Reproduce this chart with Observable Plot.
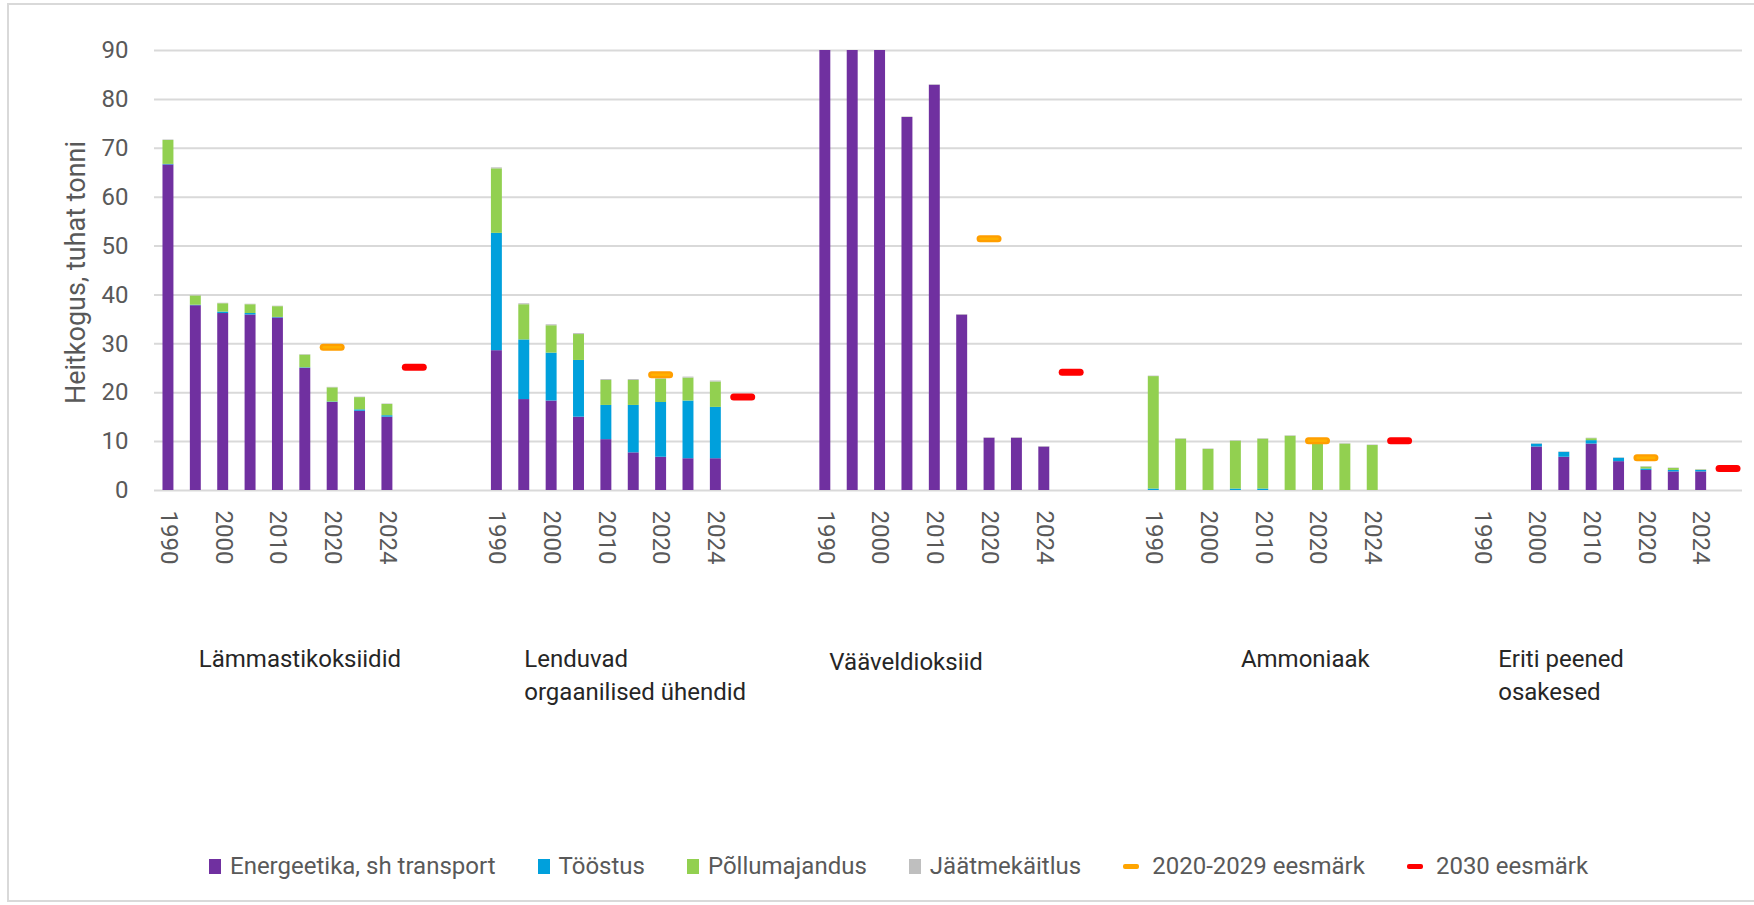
<!DOCTYPE html>
<html>
<head>
<meta charset="utf-8">
<script src="https://cdn.jsdelivr.net/npm/d3@7"></script>
<script src="https://cdn.jsdelivr.net/npm/@observablehq/plot@0.6"></script>
<style>
  html, body { margin: 0; padding: 0; background: #fff; }
  #wrap { position: relative; width: 1754px; height: 905px; overflow: hidden; font-family: Roboto, sans-serif; }
  #border { position: absolute; left: 7px; top: 3px; width: 1800px; height: 899px; box-sizing: border-box; border: 2px solid #d9d9d9; }
  #chart { position: absolute; left: 0; top: 0; }
  #legend { position: absolute; left: 209px; top: 851px; height: 30px; display: flex; align-items: center; font-size: 24px; color: #595959; white-space: nowrap; }
  .item { display: flex; align-items: center; margin-right: 42px; }
  .sw { width: 12px; height: 15px; margin-right: 9px; }
  .dash { width: 16px; height: 5px; border-radius: 2px; margin-right: 13px; }
</style>
</head>
<body>
<div id="wrap">
  <div id="border"></div>
  <div id="chart"></div>
  <div id="legend"></div>
</div>
<script>
// ---- data ----
const groups = ["Lämmastikoksiidid", "Lenduvad\norgaanilised ühendid", "Vääveldioksiid", "Ammoniaak", "Eriti peened\nosakesed"];
const years = ["1990", "1995", "2000", "2005", "2010", "2015", "2020", "2022", "2024"];
const targetYear = "2030";
const labelledYears = ["1990", "2000", "2010", "2020", "2024"];
const sectors = ["Energeetika, sh transport", "Tööstus", "Põllumajandus", "Jäätmekäitlus"];

// thousand tonnes, per pollutant (rows) and year (columns)
const energeetika = [
  [66.6, 37.8, 36.2, 35.9, 35.3, 25.0, 18.0, 16.2, 15.0],
  [28.6, 18.6, 18.3, 15.0, 10.4, 7.7, 6.8, 6.5, 6.5],
  [274, 117, 97, 76.3, 82.9, 35.9, 10.7, 10.7, 8.9],
  [0, 0, 0, 0, 0, 0, 0, 0, 0],
  [null, null, 8.9, 6.8, 9.5, 5.9, 4.1, 3.8, 3.8]
];
const toostus = [
  [0.1, 0.1, 0.3, 0.3, 0.1, 0.1, 0.1, 0.3, 0.3],
  [24.0, 12.2, 9.8, 11.6, 7.0, 9.7, 11.2, 11.8, 10.5],
  [0, 0, 0, 0, 0, 0, 0, 0, 0],
  [0.3, 0, 0, 0.3, 0.3, 0, 0, 0, 0],
  [null, null, 0.6, 1.0, 0.7, 0.7, 0.3, 0.3, 0.3]
];
const pollumajandus = [
  [4.9, 1.9, 1.7, 1.8, 2.2, 2.6, 2.9, 2.5, 2.3],
  [13.2, 7.2, 5.6, 5.3, 5.1, 5.1, 4.8, 4.7, 5.2],
  [0, 0, 0, 0, 0, 0, 0, 0, 0],
  [23.0, 10.5, 8.4, 9.8, 10.2, 11.1, 9.8, 9.5, 9.2],
  [null, null, 0, 0, 0.4, 0, 0.4, 0.4, 0.1]
];
const jaatmekaitlus = [
  [0.1, 0.1, 0.1, 0.1, 0.1, 0.1, 0.1, 0.1, 0.1],
  [0.2, 0.2, 0.2, 0.2, 0.2, 0.2, 0.2, 0.2, 0.2],
  [0.1, 0.1, 0.1, 0.1, 0.1, 0.1, 0.1, 0.1, 0.1],
  [0.1, 0.1, 0.1, 0.1, 0.1, 0.1, 0.1, 0.1, 0.1],
  [null, null, 0.1, 0.1, 0.1, 0.1, 0.1, 0.1, 0.1]
];
const eesmark2020 = [29.3, 23.7, 51.5, 10.2, 6.7];
const eesmark2030 = [25.2, 19.1, 24.2, 10.2, 4.5];

const sectorColors = ["#7030A0", "#00A0DC", "#92D050", "#BFBFBF"];
const target2020Label = "2020-2029 eesmärk";
const target2030Label = "2030 eesmärk";
const yLabel = "Heitkogus, tuhat tonni";

// ---- layout (not data) ----
const labelAnchorYear = ["1995", "1995", "1990", "2005", "1990"];
const labelDx = [3, 0, 4, 5, 16];
const labelDy = [0, 0, 3, 0, 0];

// ---- build ----
const key = (gi, y) => `${gi}-${y}`;
const domain = [];
groups.forEach((g, gi) => {
  [...years, targetYear].forEach(y => domain.push(key(gi, y)));
  if (gi < groups.length - 1) domain.push(`gap${gi}a`, `gap${gi}b`);
});

const sectorArrays = [energeetika, toostus, pollumajandus, jaatmekaitlus];
const rows = [];
sectors.forEach((s, si) => groups.forEach((g, gi) => years.forEach((y, yi) => {
  const v = sectorArrays[si][gi][yi];
  if (v != null && v > 0) rows.push({slot: key(gi, y), sector: s, value: v});
})));

const t2020 = eesmark2020.map((v, gi) => ({slot: key(gi, "2020"), value: v}));
const t2030 = eesmark2030.map((v, gi) => ({slot: key(gi, targetYear), value: v}));

const tickRows = [];
groups.forEach((g, gi) => labelledYears.forEach(y => tickRows.push({slot: key(gi, y), text: y})));

const font = "Roboto, 'Noto Sans', sans-serif";

const chart = Plot.plot({
  width: 1754,
  height: 800,
  marginLeft: 154,
  marginRight: 12,
  marginTop: 50,
  marginBottom: 310,
  style: {fontFamily: font, background: "transparent", overflow: "visible"},
  x: {type: "band", domain, paddingInner: 0.6, paddingOuter: 0.31, round: false, axis: null},
  y: {domain: [0, 90], axis: null},
  color: {domain: sectors, range: sectorColors},
  marks: [
    Plot.gridY(d3.range(0, 100, 10), {stroke: "#d9d9d9", strokeOpacity: 1, strokeWidth: 2}),
    Plot.barY(rows, {x: "slot", y: "value", fill: "sector", order: sectors, clip: true}),
    Plot.tickY(t2020, {x: "slot", y: "value", stroke: "#FF9E00", strokeWidth: 7, strokeLinecap: "round", insetLeft: -3.5, insetRight: -3.5}),
    Plot.tickY(t2020, {x: "slot", y: "value", stroke: "#FFB000", strokeWidth: 2.5, strokeLinecap: "round", insetLeft: -3, insetRight: -3}),
    Plot.tickY(t2030, {x: "slot", y: "value", stroke: "#FF0000", strokeWidth: 7, strokeLinecap: "round", insetLeft: -3.5, insetRight: -3.5}),
    Plot.axisY(d3.range(0, 100, 10), {tickSize: 0, tickPadding: 26, fontSize: 24, color: "#595959", label: null}),
    Plot.text([yLabel], {text: d => d, frameAnchor: "left", dx: -78, dy: 2, rotate: -90, textAnchor: "middle", lineAnchor: "middle", fontSize: 27, fill: "#595959"}),
    Plot.text(tickRows, {x: "slot", text: "text", frameAnchor: "bottom", dy: 20, rotate: 90, textAnchor: "start", lineAnchor: "middle", fontSize: 24, fill: "#595959"}),
    ...groups.map((g, gi) => Plot.text([g], {
      x: () => key(gi, labelAnchorYear[gi]), text: d => d, frameAnchor: "bottom",
      dy: 153 + labelDy[gi], dx: labelDx[gi], textAnchor: "start", lineAnchor: "top", lineHeight: 1.38,
      fontSize: 24, fill: "#262626"
    }))
  ]
});
document.getElementById("chart").appendChild(chart);

// legend
const legend = document.getElementById("legend");
sectors.forEach((s, i) => {
  const it = document.createElement("div");
  it.className = "item";
  it.innerHTML = `<span class="sw" style="background:${sectorColors[i]}"></span><span>${s}</span>`;
  legend.appendChild(it);
});
[[target2020Label, "#FFA500"], [target2030Label, "#FF0000"]].forEach(([t, c], i) => {
  const it = document.createElement("div");
  it.className = "item";
  if (i === 1) it.style.marginRight = "0";
  it.innerHTML = `<span class="dash" style="background:${c}"></span><span>${t}</span>`;
  legend.appendChild(it);
});
</script>
</body>
</html>
